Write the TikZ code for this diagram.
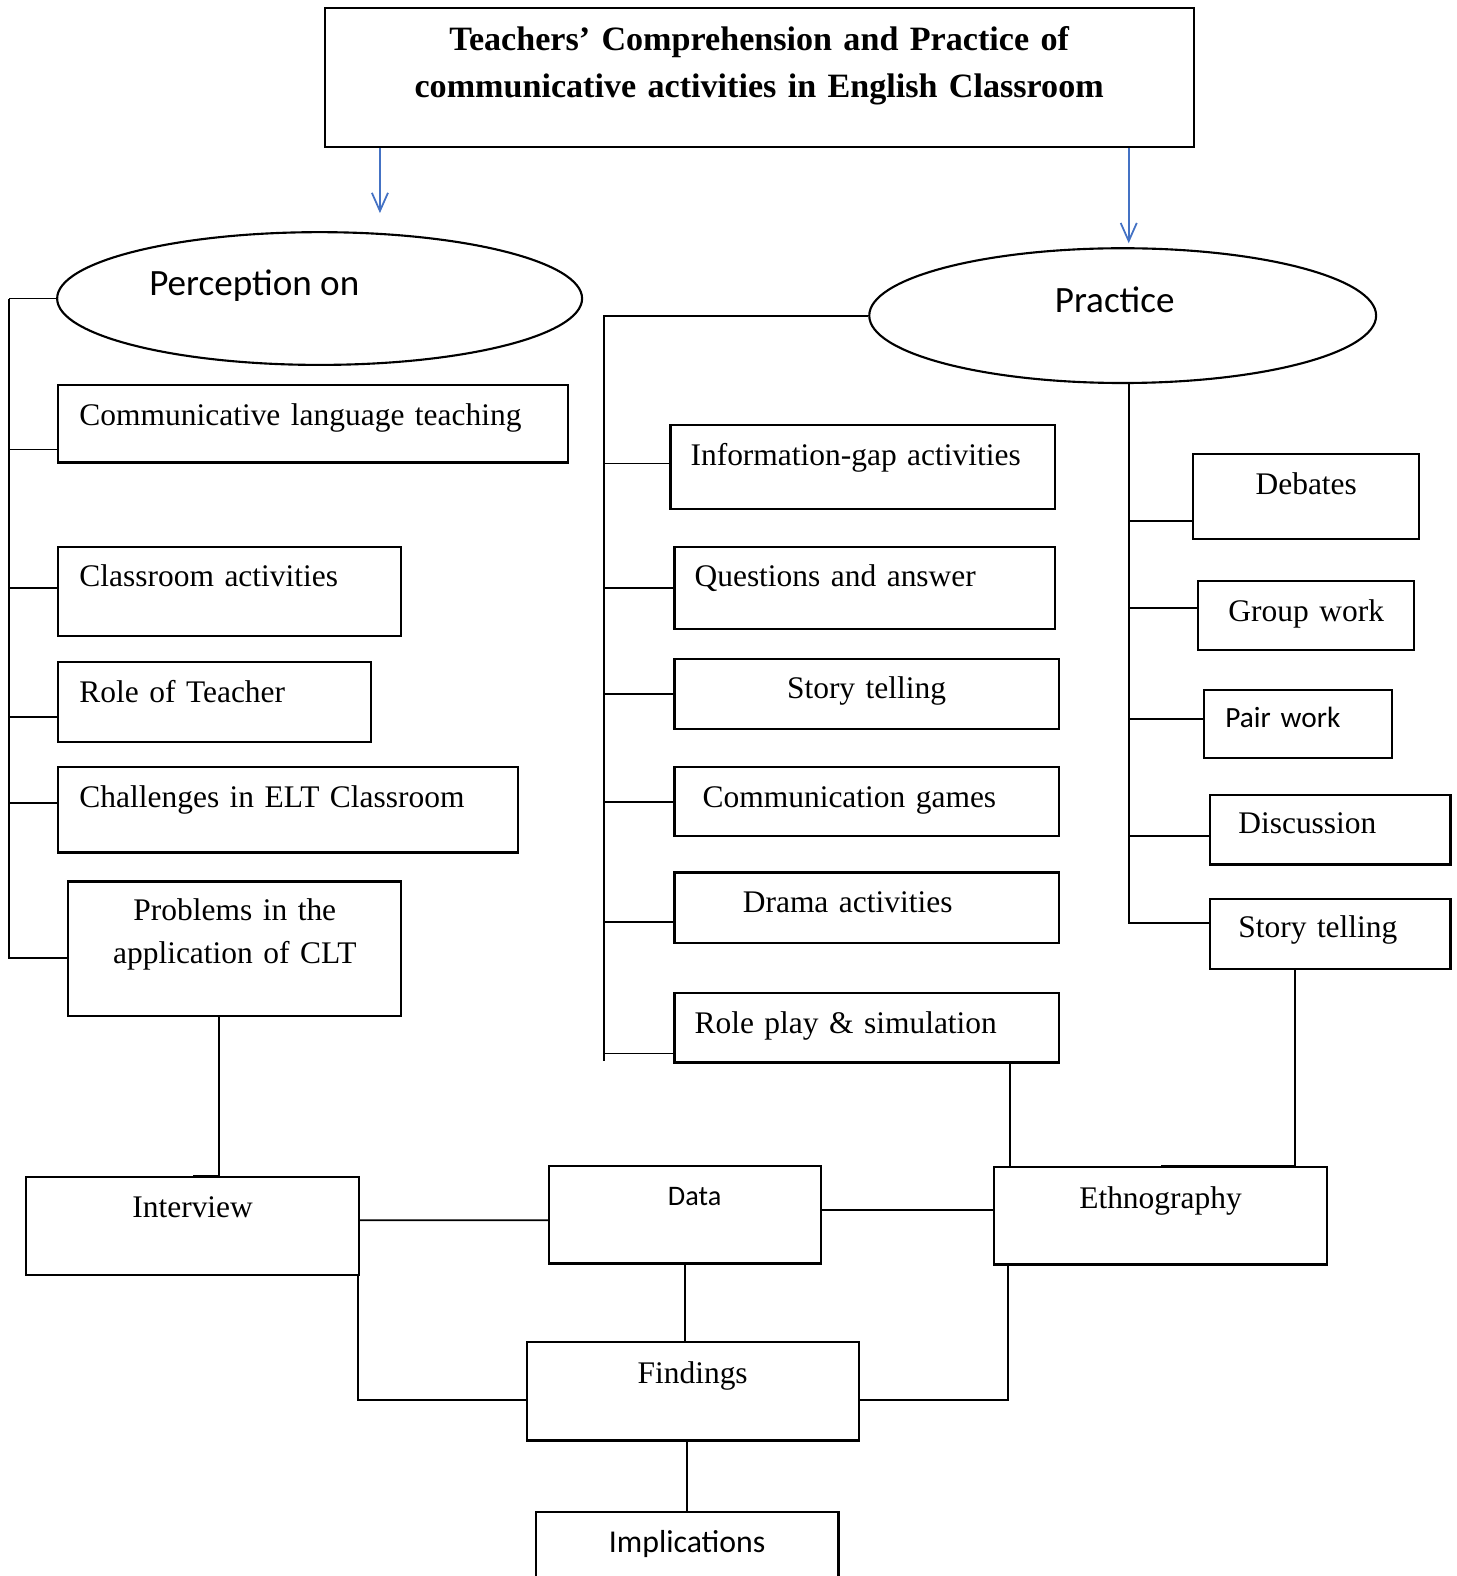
\documentclass[tikz,border=0pt]{standalone}
\usepackage{fontspec}
\setmainfont{Liberation Serif}
\newfontfamily\calibri{Carlito}
\usetikzlibrary{shapes.geometric,arrows.meta}
\definecolor{arrblue}{RGB}{68,114,196}
\newcommand\ovalfont{\calibri\fontsize{10.5}{12.6}\selectfont}

\begin{document}
\begin{tikzpicture}[
    x=0.01cm, y=-0.01cm,
    block/.style={
        rectangle,
        draw,
        line width=0.6pt,
        anchor=north west,
        inner ysep=0pt,
        align=left,
        font=\fontsize{8.9}{11.95}\selectfont
    },
    oval/.style={
        ellipse,
        draw,
        line width=0.6pt,
        inner sep=0pt
    },
    link/.style={
        draw,
        line width=0.5pt
    },
    arrow/.style={
        draw,
        -{Straight Barb[length=0.18cm,width=0.16cm]},
        line width=0.5pt,
        color=arrblue
    }
]
    \path[use as bounding box] (0,0) rectangle (1449,1568);
    \clip (0,0) rectangle (1449,1568);

    % --- Title ---
    \node [block, font=\bfseries\fontsize{9.65}{13.1}\selectfont, align=center, text width=8.54cm, inner xsep=0.05cm, text height=0.425cm, text depth=0.955cm] (title) at (322,7) {Teachers’ Comprehension and Practice of\\communicative activities in English Classroom};

    % --- Ellipses ---
    \node [oval, minimum width=5.22cm, minimum height=1.32cm, label={[xshift=-0.65cm, yshift=0.13cm, font=\ovalfont]center:Perception on}] (perc) at (318,297) {};
    \node [oval, minimum width=5.04cm, minimum height=1.34cm, label={[xshift=-0.08cm, yshift=0.16cm, font=\ovalfont]center:Practice}] (prac) at (1117,314) {};

    % --- Left column: Perception ---
    \node [block, text width=4.65cm, inner xsep=0.21cm, text height=0.40cm, text depth=0.37cm] (clt) at (57,382) {Communicative language teaching};
    \node [block, text width=2.99cm, inner xsep=0.21cm, text height=0.39cm, text depth=0.50cm] (cls) at (57,543) {Classroom activities};
    \node [block, text width=2.69cm, inner xsep=0.21cm, text height=0.40cm, text depth=0.39cm] (role) at (57,658) {Role of Teacher};
    \node [block, text width=4.15cm, inner xsep=0.21cm, text height=0.40cm, text depth=0.45cm] (chal) at (57,762) {Challenges in ELT Classroom};
    \node [block, align=center, text width=3.21cm, inner xsep=0.05cm, text height=0.39cm, text depth=0.95cm] (prob) at (67,876) {Problems in the\\application of CLT};

    % --- Middle column: activities ---
    \node [block, text width=3.42cm, inner xsep=0.20cm, text height=0.40cm, text depth=0.43cm] (info) at (666,422) {Information-gap activities};
    \node [block, text width=3.38cm, inner xsep=0.20cm, text height=0.39cm, text depth=0.43cm] (qa) at (670,543) {Questions and answer};
    \node [block, align=center, text width=3.72cm, inner xsep=0.05cm, text height=0.39cm, text depth=0.30cm] (stor1) at (670,655) {Story telling};
    \node [block, text width=3.26cm, inner xsep=0.28cm, text height=0.40cm, text depth=0.29cm] (game) at (670,762) {Communication games};
    \node [block, text width=2.46cm, inner xsep=0.68cm, text height=0.40cm, text depth=0.30cm] (drama) at (670,867) {Drama activities};
    \node [block, text width=3.42cm, inner xsep=0.20cm, text height=0.40cm, text depth=0.29cm] (rolep) at (670,987) {Role play \& simulation};

    % --- Right column: activities ---
    \node [block, align=center, text width=2.15cm, inner xsep=0.05cm, text height=0.40cm, text depth=0.44cm] (deb) at (1186,451) {Debates};
    \node [block, align=center, text width=2.05cm, inner xsep=0.05cm, text height=0.40cm, text depth=0.29cm] (grp) at (1191,577) {Group work};
    \node [block, font=\calibri\fontsize{8.3}{10}\selectfont, text width=1.45cm, inner xsep=0.21cm, text height=0.375cm, text depth=0.305cm] (pair) at (1197,685) {Pair work};
    \node [block, text width=1.83cm, inner xsep=0.28cm, text height=0.38cm, text depth=0.31cm] (disc) at (1203,790) {Discussion};
    \node [block, text width=1.83cm, inner xsep=0.28cm, text height=0.39cm, text depth=0.31cm] (stor2) at (1203,893) {Story telling};

    % --- Bottom: method and results ---
    \node [block, align=center, text width=3.21cm, inner xsep=0.05cm, text height=0.40cm, text depth=0.57cm] (intv) at (25,1170) {Interview};
    \node [block, font=\calibri\fontsize{8}{9.6}\selectfont, align=center, text width=2.61cm, inner xsep=0.05cm, text height=0.39cm, text depth=0.58cm] (data) at (545,1159) {\hspace*{0.19cm}Data};
    \node [block, align=center, text width=3.21cm, inner xsep=0.05cm, text height=0.41cm, text depth=0.56cm] (ethn) at (988,1160) {Ethnography};
    \node [block, align=center, text width=3.20cm, inner xsep=0.05cm, text height=0.41cm, text depth=0.57cm] (find) at (523,1334) {Findings};
    \node [block, font=\calibri\fontsize{9}{10.8}\selectfont, align=center, text width=2.91cm, inner xsep=0.05cm, text height=0.41cm, text depth=0.56cm] (impl) at (532,1503) {Implications};

    % --- Arrows from the title ---
    \coordinate (ltip) at (378,212);
    \coordinate (rtip) at (1123,242);
    \path [arrow] (title.south -| ltip) -- (ltip);
    \path [arrow] (title.south -| rtip) -- (rtip);

    % --- Left bus ---
    \path (perc.west) ++(-47,0) coordinate (lbus);
    \path [link] (perc.west) -- (lbus);
    \path [link] ([yshift=-0.255cm]clt.west) -| (lbus);
    \path [link] ([yshift=0.035cm]cls.west) -| (lbus);
    \path [link] ([yshift=-0.145cm]role.west) -| (lbus);
    \path [link] ([yshift=0.065cm]chal.west) -| (lbus);
    \path [link] ([yshift=-0.09cm]prob.west) -| (lbus);

    % --- Middle bus ---
    \path (prac.west) ++(-263,0) coordinate (mbus);
    \path [link] (prac.west) -- (mbus) -- ++(0,742);
    \path [link] ([yshift=0.035cm]info.west) -| (mbus);
    \path [link] (qa.west) -| (mbus);
    \path [link] (stor1.west) -| (mbus);
    \path [link] (game.west) -| (mbus);
    \path [link] ([yshift=-0.14cm]drama.west) -| (mbus);
    \path [link] ([yshift=-0.255cm]rolep.west) -| (mbus);

    % --- Right bus ---
    \path ([xshift=0.06cm]prac.south) coordinate (rbus);
    \path [link] ([yshift=-0.24cm]deb.west) -| (rbus);
    \path [link] ([yshift=0.075cm]grp.west) -| (rbus);
    \path [link] ([yshift=0.05cm]pair.west) -| (rbus);
    \path [link] ([yshift=-0.065cm]disc.west) -| (rbus);
    \path [link] ([yshift=0.11cm]stor2.west) -| (rbus);

    % --- Into the method boxes ---
    \path [link] ([xshift=-0.155cm]prob.south) |- (intv.north);
    \path [link] ([xshift=0.17cm]ethn.north west) |- (rolep.south);
    \path [link] ([xshift=-0.355cm]stor2.south) |- (ethn.north);

    % --- Data, findings, implications ---
    \path [link] ([yshift=0.055cm]intv.east) -- ([yshift=-0.055cm]data.west);
    \path [link] ([yshift=0.045cm]data.east) -- ([yshift=0.055cm]ethn.west);
    \path [link] (data.south) -- (data.south |- find.north);
    \path [link] ([xshift=-0.02cm]intv.south east) |- ([yshift=-0.09cm]find.west);
    \path [link] ([xshift=0.15cm]ethn.south west) |- ([yshift=-0.09cm]find.east);
    \path [link] (find.south -| impl.north) -- (impl.north);

\end{tikzpicture}
\end{document}
